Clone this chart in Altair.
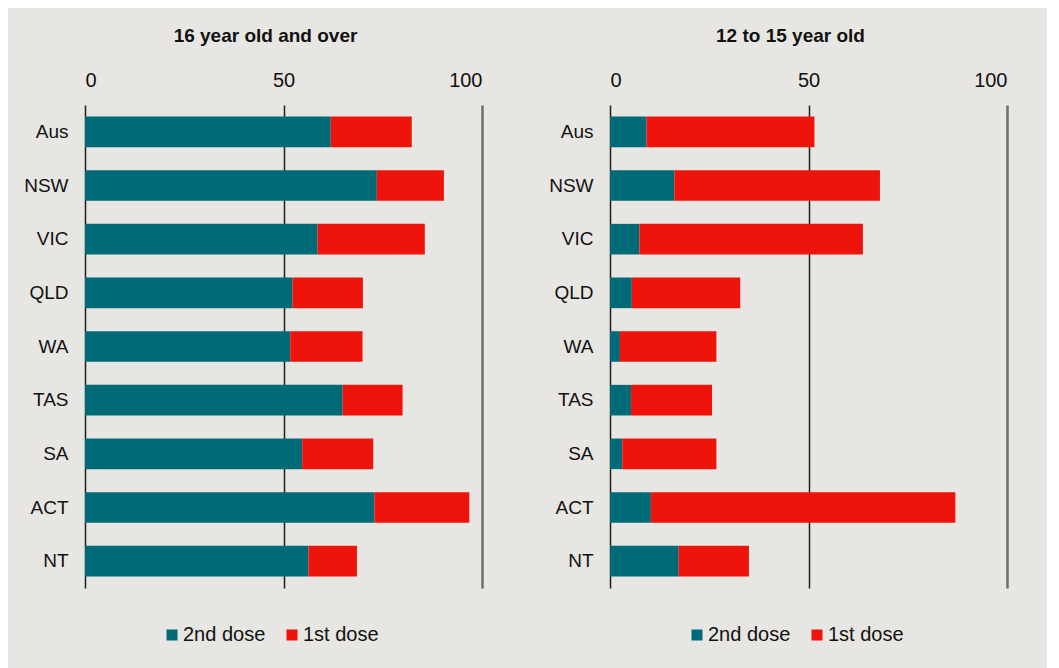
import altair as alt
import pandas as pd

STATES = ["Aus", "NSW", "VIC", "QLD", "WA", "TAS", "SA", "ACT", "NT"]
SERIES = ["2nd dose", "1st dose"]

OVER16_SECOND = [61.9, 73.5, 58.6, 52.3, 51.7, 64.9, 54.7, 72.9, 56.3]
OVER16_FIRST = [82.3, 90.4, 85.6, 70.0, 69.9, 80.0, 72.6, 96.8, 68.5]

TEEN_SECOND = [9.2, 16.2, 7.4, 5.5, 2.5, 5.3, 3.1, 10.3, 17.3]
TEEN_FIRST = [51.5, 68.0, 63.7, 32.8, 26.8, 25.7, 26.8, 87.0, 35.0]

X_TICKS = [0, 50, 100]

TEAL = "#006a77"
RED = "#ee140b"
BG = "#e8e6e2"
FONT = "Liberation Sans"


def long_frame(second, first):
    rows = []
    for s, a, b in zip(STATES, second, first):
        rows.append({"state": s, "series": SERIES[0], "start": 0, "end": a})
        rows.append({"state": s, "series": SERIES[1], "start": a, "end": b})
    return pd.DataFrame(rows)


def panel(second, first, title):
    df = long_frame(second, first)
    return (
        alt.Chart(df, title=alt.TitleParams(
            title, anchor="middle", frame="group", dx=-18, offset=24,
            fontSize=19, font=FONT, fontWeight="bold", color="#111111"))
        .mark_bar(strokeWidth=0)
        .encode(
            x=alt.X("start:Q", title=None,
                    scale=alt.Scale(domain=[0, 100], nice=False),
                    axis=alt.Axis(orient="top", values=X_TICKS, grid=True,
                                  domain=False, ticks=False, tickSize=0,
                                  labelPadding=15, labelFontSize=20,
                                  labelFont=FONT, labelColor="#111111",
                                  gridColor={"condition": {"test": "datum.value === 100", "value": "#6e6e6e"},
                                             "value": "#1e1e1e"},
                                  gridWidth={"condition": {"test": "datum.value === 100", "value": 2.5},
                                             "value": 1.5})),
            x2="end:Q",
            y=alt.Y("state:N", title=None, sort=STATES,
                    scale=alt.Scale(paddingInner=0.43, paddingOuter=0.215),
                    axis=alt.Axis(domain=False, ticks=False, tickSize=0,
                                  labelPadding=17, labelFontSize=19,
                                  labelFont=FONT, labelColor="#111111",
                                  minExtent=60, maxExtent=60)),
            color=alt.Color("series:N",
                            scale=alt.Scale(domain=SERIES, range=[TEAL, RED]),
                            legend=alt.Legend(title=None, orient="none",
                                              legendX=77, legendY=520,
                                              direction="horizontal",
                                              symbolType="square", symbolSize=121,
                                              symbolStrokeWidth=0, symbolOpacity=1,
                                              labelFontSize=20, labelFont=FONT,
                                              labelColor="#111111", labelOffset=1,
                                              columnPadding=16)),
            order=alt.Order("start:Q"),
        )
        .properties(width=397, height=483)
    )


left = panel(OVER16_SECOND, OVER16_FIRST, "16 year old and over")
right = panel(TEEN_SECOND, TEEN_FIRST, "12 to 15 year old")

chart = (
    alt.hconcat(left, right, spacing=128, bounds="flush")
    .resolve_scale(color="independent")
    .configure_view(stroke=None)
    .properties(background=BG,
                padding={"left": 15, "top": 19, "right": 40, "bottom": 25})
)

chart.save("out.html", embed_options={"renderer": "svg", "actions": False})
